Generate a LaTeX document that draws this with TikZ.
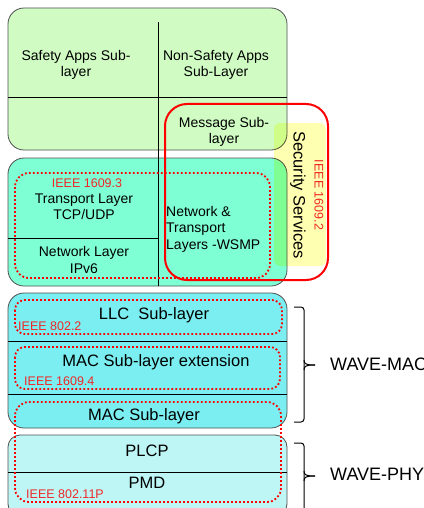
\documentclass[tikz,border=0pt]{standalone}
\usepackage{fontspec}
\setmainfont{Liberation Sans}
\definecolor{appgreen}{RGB}{208,252,196}
\definecolor{netteal}{RGB}{127,255,212}
\definecolor{maccyan}{RGB}{122,238,240}
\definecolor{phycyan}{RGB}{190,246,246}
\definecolor{secyellow}{RGB}{255,255,177}
\definecolor{boxline}{RGB}{80,80,80}
\definecolor{ieeered}{RGB}{240,40,40}
\tikzset{
  layerbox/.style={draw=boxline, line width=0.8pt, rounded corners=16pt},
  divider/.style={draw=black, line width=0.9pt},
  reddots/.style={draw=red, line width=1.8pt, dash pattern=on 1.8pt off 2.2pt},
  redframe/.style={draw=red, line width=2pt, rounded corners=22pt},
  lbl/.style={inner sep=0pt, align=center, font=\fontsize{14}{16.5}\selectfont},
  biglbl/.style={inner sep=0pt, align=center, font=\fontsize{16.5}{18}\selectfont},
  ieeelbl/.style={inner sep=0pt, text=ieeered, font=\fontsize{12.5}{14}\selectfont},
  wavelbl/.style={inner sep=0pt, anchor=west, font=\fontsize{18}{20}\selectfont},
  bracepath/.style={draw=black, line width=1pt, rounded corners=3pt},
}
\begin{document}
\begin{tikzpicture}[x=1pt,y=-1pt]
\useasboundingbox (0,0) rectangle (423,508);
% layer boxes
\path[layerbox, fill=appgreen] (8,8) rectangle (287,150);
\path[layerbox, fill=netteal] (8,158) rectangle (287,286);
\path[layerbox, fill=maccyan] (8,293) rectangle (287,428);
\path[layerbox, fill=phycyan, rounded corners=12pt] (8,435) rectangle (287,516);
% dividers
\draw[divider] (158,22) -- (158,286);
\draw[divider] (8,97) -- (287,97);
\draw[divider] (8,238) -- (158,238);
\draw[divider] (8,341) -- (287,341);
\draw[divider] (8,394) -- (287,394);
\draw[divider] (8,472) -- (287,472);
% security band
\begin{scope}[blend mode=multiply]
\fill[secyellow, rounded corners=6pt] (274,123) rectangle (326,266);
\end{scope}
% dotted groupings
\draw[reddots, rounded corners=14pt] (15,173) rectangle (270,278);
\draw[reddots, rounded corners=10pt] (15,300) rectangle (282,334);
\draw[reddots, rounded corners=10pt] (15,347) rectangle (280,389);
\draw[reddots, rounded corners=14pt] (15,402) rectangle (281,502);
% security frame
\draw[redframe] (165,104) rectangle (328,280);
% texts
\node[lbl] (safety) at (76,65) {Safety Apps Sub-\\layer};
\node[lbl] (nonsafety) at (216,65) {Non-Safety Apps\\Sub-Layer};
\node[lbl] (message) at (224,132) {Message Sub-\\layer};
\node[ieeelbl] (ieee3) at (87,183) {IEEE 1609.3};
\node[lbl] (transport) at (84,207) {Transport Layer\\TCP/UDP};
\node[lbl] (network) at (84,260) {Network Layer\\IPv6};
\node[lbl, align=left, anchor=west] (wsmp) at (166,229) {Network \&\\Transport\\Layers -WSMP};
\node[biglbl, rotate=-90] (security) at (298,195) {Security Services};
\node[ieeelbl, rotate=-90] (ieee2) at (319,195) {IEEE 1609.2};
\node[biglbl] (llc) at (154,315) {LLC\ \ Sub-layer};
\node[ieeelbl, anchor=west] (ieee8022) at (18,326) {IEEE 802.2};
\node[biglbl] (macext) at (156,362) {MAC Sub-layer extension};
\node[ieeelbl, anchor=west] (ieee16094) at (24,381) {IEEE 1609.4};
\node[biglbl] (macsub) at (144,416) {MAC Sub-layer};
\node[biglbl] (plcp) at (147,451) {PLCP};
\node[biglbl] (pmd) at (147,483) {PMD};
\node[ieeelbl, anchor=west] (ieee80211p) at (26,494) {IEEE 802.11P};
% braces
\coordinate (mactop) at (294,307);
\coordinate (macbot) at (294,422);
\coordinate (mactip) at (315,365);
\draw[bracepath] (mactop) -- (304,307) -- (304,422) -- (macbot);
\draw[draw=black, line width=1pt] (304,360) .. controls (304,364) and (306,365) .. (mactip);
\draw[draw=black, line width=1pt] (304,370) .. controls (304,366) and (306,365) .. (mactip);
\coordinate (phytop) at (294,443);
\coordinate (phybot) at (304,520);
\coordinate (phytip) at (315,476);
\draw[bracepath] (phytop) -- (304,443) -- (phybot);
\draw[draw=black, line width=1pt] (304,471) .. controls (304,475) and (306,476) .. (phytip);
\draw[draw=black, line width=1pt] (304,481) .. controls (304,477) and (306,476) .. (phytip);
\node[wavelbl] (wavemac) at (330,364) {WAVE-MAC};
\node[wavelbl] (wavephy) at (330,474) {WAVE-PHY};
\end{tikzpicture}
\end{document}
